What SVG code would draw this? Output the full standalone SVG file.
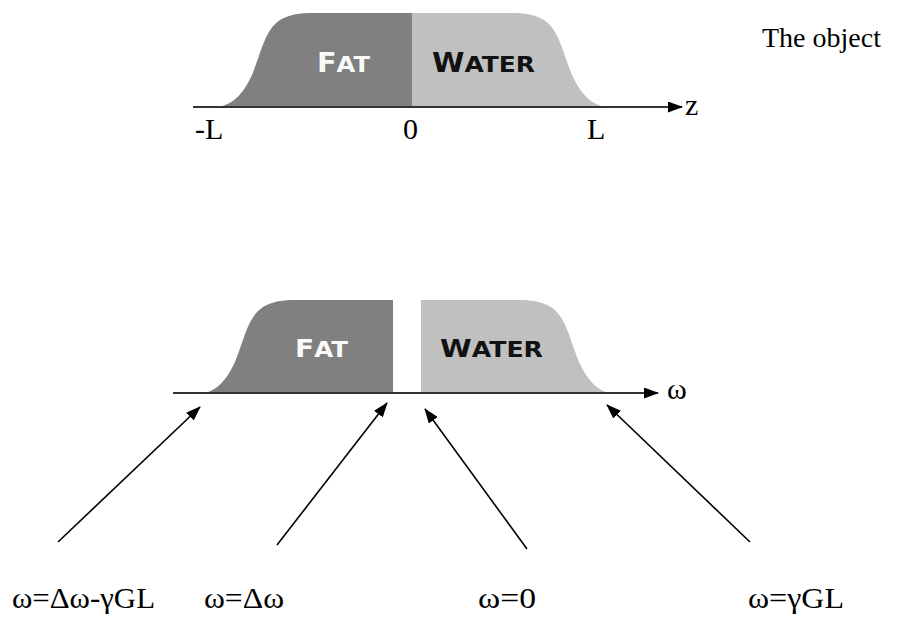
<svg xmlns="http://www.w3.org/2000/svg" width="920" height="617" viewBox="0 0 920 617">
<defs>
<style>
.fat{fill:#808080}
.water{fill:#c0c0c0}
.axis{stroke:#333333;stroke-width:2.2;fill:none}
.arr{stroke:#000;stroke-width:1.6;fill:none}
.lbl{font-family:"Liberation Serif","Times New Roman",serif;font-size:30px;fill:#000}
.obj{font-family:"Liberation Serif","Times New Roman",serif;font-size:28px;fill:#000}
.blbl{font-family:"Liberation Serif","Times New Roman",serif;font-size:30px;fill:#000}
.cap{font-family:"DejaVu Sans","Verdana",sans-serif;font-weight:bold}
</style>
<marker id="ah" viewBox="0 0 15 11" refX="14" refY="5.5" markerWidth="15" markerHeight="11" markerUnits="userSpaceOnUse" orient="auto">
<path d="M0,0 L15,5.5 L0,11 Z" fill="#000"/>
</marker>
</defs>
<rect width="920" height="617" fill="#ffffff"/>

<g id="object-top">
<path class="fat" d="M217,107 C235,105 245,90 252,75 C262,50 265,30 280,20 C290,14 300,13 313,13 L412,13 L412,107 Z"/>
<path class="water" d="M607,107 C589,105 579,90 572,75 C562,50 559,30 544,20 C534,14 524,13 511,13 L412,13 L412,107 Z"/>
<text class="cap" x="317" y="72" fill="#fafafa" textLength="53" lengthAdjust="spacingAndGlyphs"><tspan font-size="26">F</tspan><tspan font-size="22">AT</tspan></text>
<text class="cap" x="432" y="72" fill="#111111" textLength="103" lengthAdjust="spacingAndGlyphs"><tspan font-size="26">W</tspan><tspan font-size="22">ATER</tspan></text>
</g>

<g id="spectrum-bottom">
<path class="fat" d="M200,394 C218,392 228,377 235,362 C245,337 248,317 263,307 C273,301 283,300 296,300 L393,300 L393,394 Z"/>
<path class="water" d="M614,394 C596,392 586,377 579,362 C569,337 566,317 551,307 C541,301 531,300 518,300 L421,300 L421,394 Z"/>
<text class="cap" x="295" y="357" fill="#fafafa" textLength="53" lengthAdjust="spacingAndGlyphs"><tspan font-size="24">F</tspan><tspan font-size="21">AT</tspan></text>
<text class="cap" x="440" y="357" fill="#111111" textLength="103" lengthAdjust="spacingAndGlyphs"><tspan font-size="24">W</tspan><tspan font-size="21">ATER</tspan></text>
</g>

<g id="connectors">
<line class="axis" x1="193" y1="107" x2="682" y2="107" marker-end="url(#ah)"/>
<line class="axis" x1="173" y1="393" x2="658" y2="393" marker-end="url(#ah)"/>
<line class="arr" x1="58" y1="542" x2="200" y2="407" marker-end="url(#ah)"/>
<line class="arr" x1="277" y1="545" x2="387" y2="403" marker-end="url(#ah)"/>
<line class="arr" x1="527" y1="549" x2="425" y2="409" marker-end="url(#ah)"/>
<line class="arr" x1="750" y1="542" x2="607" y2="405" marker-end="url(#ah)"/>
</g>

<g id="labels">
<text class="obj" x="762" y="47">The object</text>
<text class="lbl" x="195" y="139">-L</text>
<text class="lbl" x="403" y="139">0</text>
<text class="lbl" x="587" y="139">L</text>
<text class="lbl" x="685" y="115">z</text>
<text class="lbl" x="667" y="399">ω</text>
<text class="blbl" x="12" y="608" textLength="143" lengthAdjust="spacingAndGlyphs">ω=Δω-γGL</text>
<text class="blbl" x="204" y="608" textLength="80" lengthAdjust="spacingAndGlyphs">ω=Δω</text>
<text class="blbl" x="478" y="608" textLength="58" lengthAdjust="spacingAndGlyphs">ω=0</text>
<text class="blbl" x="748" y="608" textLength="96" lengthAdjust="spacingAndGlyphs">ω=γGL</text>
</g>
</svg>
